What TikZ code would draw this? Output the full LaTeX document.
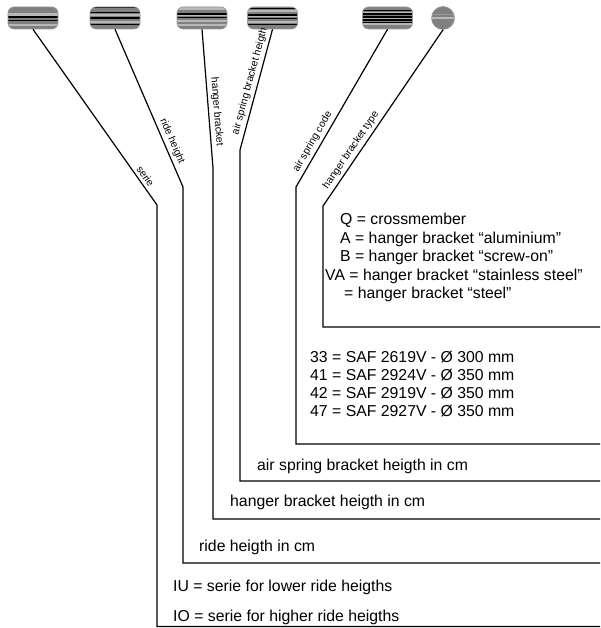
\documentclass[tikz,border=0pt]{standalone}
\usepackage{fontspec}
\setmainfont{Liberation Sans}
\begin{document}
\begin{tikzpicture}[x=1pt,y=-1pt,
  pill/.style={draw=black!40, fill=black!50, rounded corners=6pt, minimum width=50pt, minimum height=22pt, inner sep=0pt, line width=0.6pt},
  knob/.style={circle, draw=black!40, fill=black!50, minimum size=23pt, inner sep=0pt, line width=0.6pt},
  stripes/.style={path picture={\foreach \o/\c/\w in {#1}{\draw[draw=\c, line width=\w pt] ([yshift=-\o pt]path picture bounding box.north west) -- ([yshift=-\o pt]path picture bounding box.north east);}}},
  lead/.style={line width=1.2pt, line join=miter},
  lbl/.style={font=\fontsize{10.3}{12}\selectfont, sloped, above, inner sep=2.8pt},
  txt/.style={font=\fontsize{15.8}{18}\selectfont, anchor=base west, inner sep=0pt}
]
\useasboundingbox (0,0) rectangle (600,628);

% top markers
\node[pill, stripes={7.3/black!28/2.5, 10/black/1.3, 13.8/black/1.3, 17.7/black!28/2}] (p1) at (33,18) {};
\node[pill, stripes={0.6/black/1, 5.7/black/1.1, 7.8/black!28/2, 11/black/2, 15.5/black!28/2, 18/black/1}] (p2) at (115,18) {};
\node[pill, stripes={1.5/black!28/2.5, 7/black/1.2, 8.8/black!28/1.2, 10.7/black/1.5, 14/black!28/2.5, 18/black!28/1.5}] (p3) at (202,18) {};
\node[pill, stripes={1.3/black/1.2, 4.3/black!28/2, 8/black/1.2, 9.6/black!28/1, 11.7/black/1.5, 14.7/black!28/2, 17.7/black/1.2}] (p4) at (272.5,18) {};
\node[pill, stripes={3.3/black/1.2, 5.2/black!28/1, 7/black/1.5, 10/black/1.5, 11.7/black!28/1, 12.9/black/1.5, 15.3/black/1.2, 17.2/black!28/1.5}] (p5) at (387.5,18) {};
\node[knob, stripes={8.2/black!40/1.2, 11.6/black!28/2}] (p6) at (443,18) {};

% bends and free ends
\coordinate (b1) at (157,205);   \coordinate (e1) at (600,626.5);
\coordinate (b2) at (183,187);   \coordinate (e2) at (600,563);
\coordinate (b3) at (213,168);   \coordinate (e3) at (600,519);
\coordinate (b4) at (240,150);   \coordinate (e4) at (600,481);
\coordinate (b5) at (296,187);   \coordinate (e5) at (600,444);
\coordinate (b6) at (323,206);   \coordinate (e6) at (600,327);

\draw[lead] (p1.south) -- node[lbl, pos=0.86] (l1) {serie} (b1) |- (e1);
\draw[lead] (p2.south) -- node[lbl, pos=0.73] (l2) {ride height} (b2) |- (e2);
\draw[lead] (p3.south) -- node[lbl, pos=0.6] (l3) {hanger bracket} (b3) |- (e3);
\draw[lead] (p4.south) -- node[lbl, pos=0.45] (l4) {air spring bracket heigth} (b4) |- (e4);
\draw[lead] (p5.south) -- node[lbl, pos=0.74] (l5) {air spring code} (b5) |- (e5);
\draw[lead] (p6.south) -- node[lbl, pos=0.71] (l6) {hanger bracket type} (b6) |- (e6);

% texts
\node[txt] (q1) at (340,225) {Q = crossmember};
\node[txt] (q2) at (340,243) {A = hanger bracket “aluminium”};
\node[txt] (q3) at (340,261.5) {B = hanger bracket “screw-on”};
\node[txt] (q4) at (325,280) {VA = hanger bracket “stainless steel”};
\node[txt] (q5) at (344,298) {= hanger bracket “steel”};

\node[txt] (s1) at (310,362.7) {33 = SAF 2619V - Ø 300 mm};
\node[txt] (s2) at (310,380) {41 = SAF 2924V - Ø 350 mm};
\node[txt] (s3) at (310,398) {42 = SAF 2919V - Ø 350 mm};
\node[txt] (s4) at (310,416.5) {47 = SAF 2927V - Ø 350 mm};

\node[txt] (t4) at (257,470) {air spring bracket heigth in cm};
\node[txt] (t3) at (230,506.5) {hanger bracket heigth in cm};
\node[txt] (t2) at (199,551.5) {ride heigth in cm};
\node[txt] (t1) at (173,591.5) {IU = serie for lower ride heigths};
\node[txt] (t0) at (173,621.5) {IO = serie for higher ride heigths};
\end{tikzpicture}
\end{document}
